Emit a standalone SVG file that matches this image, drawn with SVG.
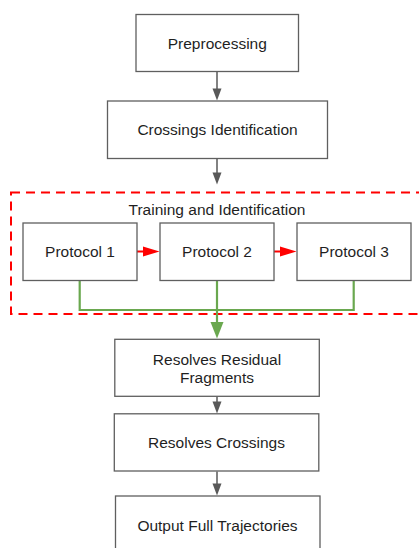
<svg xmlns="http://www.w3.org/2000/svg" width="419" height="548" viewBox="0 0 419 548">
<style>
.box{fill:#ffffff;stroke:#5f5f5f;stroke-width:1.3}
.t{font-family:"Liberation Sans",Arial,sans-serif;font-size:15.5px;fill:#1f1f1f;text-anchor:middle}
.g{stroke:#595959;stroke-width:1.5;fill:none}
.r{stroke:#ff0000;stroke-width:2;fill:none}
.gr{stroke:#6aa84f;stroke-width:2.2;fill:none}
</style>
<defs>
<marker id="ag" markerUnits="userSpaceOnUse" markerWidth="10" markerHeight="12" refX="10" refY="5" orient="auto"><path d="M0,0 L10,5 L0,10 Z" fill="#595959"/></marker>
</defs>
<rect width="419" height="548" fill="#ffffff"/>
<g id="group-training">
<rect x="11" y="192.5" width="420" height="121.5" fill="none" stroke="#ff0000" stroke-width="2" stroke-dasharray="9 6"/>
<text class="t" x="217" y="215">Training and Identification</text>
</g>
<g id="connectors">
<line class="g" x1="217" y1="71.5" x2="217" y2="89"/>
<path d="M212.5,88.5 L221.5,88.5 L217,100.5 Z" fill="#595959"/>
<line class="g" x1="217" y1="158.5" x2="217" y2="173"/>
<path d="M212.5,172.5 L221.5,172.5 L217,184.5 Z" fill="#595959"/>
<line class="r" x1="137" y1="251.5" x2="144" y2="251.5"/>
<path d="M143,246.5 L159.5,251.5 L143,256.5 Z" fill="#ff0000"/>
<line class="r" x1="274" y1="251.5" x2="281" y2="251.5"/>
<path d="M280,246.5 L296.5,251.5 L280,256.5 Z" fill="#ff0000"/>
<path class="gr" d="M79.7,280.5 V310 H353.7 V280.5"/>
<line class="gr" x1="217" y1="280.5" x2="217" y2="323"/>
<path d="M210.5,322 L223.5,322 L217,338.5 Z" fill="#6aa84f"/>
<line class="g" x1="217" y1="396.5" x2="217" y2="402"/>
<path d="M212.5,401.5 L221.5,401.5 L217,413.5 Z" fill="#595959"/>
<line class="g" x1="217" y1="471.5" x2="217" y2="484"/>
<path d="M212.5,483.5 L221.5,483.5 L217,495.5 Z" fill="#595959"/>
</g>
<g id="node-preprocessing">
<rect class="box" x="136" y="14.5" width="162.5" height="57"/>
<text class="t" x="217.3" y="48.5">Preprocessing</text>
</g>
<g id="node-crossings-identification">
<rect class="box" x="107.5" y="101" width="220" height="57.5"/>
<text class="t" x="217.5" y="135">Crossings Identification</text>
</g>
<g id="node-protocol-1">
<rect class="box" x="23" y="223" width="114" height="57.5"/>
<text class="t" x="80" y="257">Protocol 1</text>
</g>
<g id="node-protocol-2">
<rect class="box" x="160" y="223" width="114" height="57.5"/>
<text class="t" x="217" y="257">Protocol 2</text>
</g>
<g id="node-protocol-3">
<rect class="box" x="297" y="223" width="114" height="57.5"/>
<text class="t" x="354" y="257">Protocol 3</text>
</g>
<g id="node-resolves-residual">
<rect class="box" x="114.8" y="339.3" width="204.5" height="57"/>
<text class="t" x="217" y="365">Resolves Residual</text>
<text class="t" x="217" y="383">Fragments</text>
</g>
<g id="node-resolves-crossings">
<rect class="box" x="114.3" y="413.8" width="204.5" height="57.2"/>
<text class="t" x="216.5" y="448">Resolves Crossings</text>
</g>
<g id="node-output">
<rect class="box" x="115.5" y="496" width="204.5" height="57"/>
<text class="t" x="217.5" y="530.5">Output Full Trajectories</text>
</g>
</svg>
